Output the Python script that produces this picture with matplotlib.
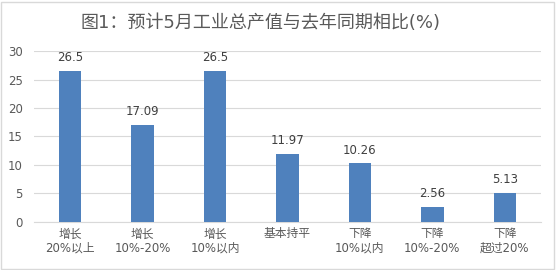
import matplotlib
matplotlib.use("Agg")
import matplotlib.pyplot as plt
from matplotlib.patches import Rectangle

plt.rcParams['font.family'] = ['DejaVu Sans', 'Noto Sans CJK SC']

categories = ["增长\n20%以上", "增长\n10%-20%", "增长\n10%以内", "基本持平", "下降\n10%以内", "下降\n10%-20%", "下降\n超过20%"]
values = [26.5, 17.09, 26.5, 11.97, 10.26, 2.56, 5.13]
value_labels = ["26.5", "17.09", "26.5", "11.97", "10.26", "2.56", "5.13"]
yticks = [0, 5, 10, 15, 20, 25, 30]
title = "图1：预计5月工业总产值与去年同期相比(%)"

fig = plt.figure(figsize=(5.56, 2.7), dpi=100)
ax = fig.add_axes([0.061, 0.178, 0.912, 0.633])
x = list(range(len(categories)))
ax.bar(x, values, width=0.31, color='#4F81BD', zorder=3)
for xi, v, lab in zip(x, values, value_labels):
    ax.annotate(lab, (xi, v), xytext=(0, 5), textcoords='offset points',
                ha='center', va='bottom', fontsize=8.5, color='#404040')
ax.set_xlim(-0.5, len(categories) - 0.5)
ax.set_ylim(0, 30)
ax.set_yticks(yticks)
ax.set_xticks(x)
ax.set_xticklabels(categories, fontsize=8.5, color='#595959', linespacing=1.15)
ax.tick_params(axis='y', labelsize=8.5, labelcolor='#595959', length=0, pad=8)
ax.tick_params(axis='x', length=0, pad=4)
ax.grid(axis='y', color='#D9D9D9', linewidth=0.8, zorder=0)
for s in ['top', 'right', 'left']:
    ax.spines[s].set_visible(False)
ax.spines['bottom'].set_color('#D9D9D9')
fig.text(0.468, 0.915, title, ha='center', va='center', fontsize=13, color='#595959')
fig.patches.append(Rectangle((0.002, 0.004), 0.995, 0.99, transform=fig.transFigure,
                             fill=False, edgecolor='#D9D9D9', linewidth=1))
fig.savefig('out.png', dpi=100)
